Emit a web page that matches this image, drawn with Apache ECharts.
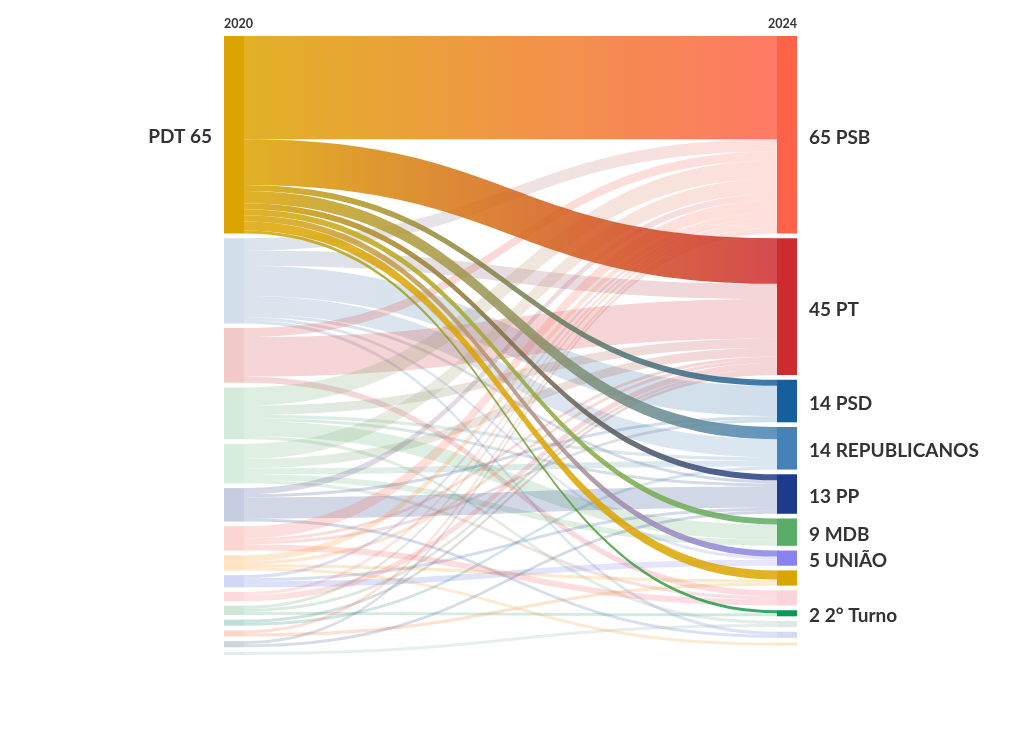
<!DOCTYPE html>
<html><head><meta charset="utf-8">
<script src="https://cdn.jsdelivr.net/npm/echarts@6/dist/echarts.min.js"></script>
<style>html,body{margin:0;padding:0;background:#fff}#c{width:1020px;height:733px}</style>
</head><body><div id="c"></div>
<script>
// ---- data ----
const years = ['2020', '2024'];
const sources = ['PDT', 'PSDB', 'PT', 'MDB', 'PSD', 'PP', 'PSB', 'PL', 'PODE', 'PROS', 'PV', 'PCdoB', 'SD', 'PTB', 'DEM'];
const sourceLabels = ['PDT 65', '', '', '', '', '', '', '', '', '', '', '', '', '', ''];
const targets = ['PSB', 'PT', 'PSD', 'REPUBLICANOS', 'PP', 'MDB', 'UNIÃO', 'PDT', 'PL', '2° Turno', 'AVANTE', 'PSDB', 'SD'];
const targetLabels = ['65 PSB', '45 PT', '14 PSD', '14 REPUBLICANOS', '13 PP', '9 MDB', '5 UNIÃO', '', '', '2 2° Turno', '', '', ''];
// flows from each 2020 party to the 2024 parties (same order as targets)
const fromPDT  = [34, 15, 2, 4, 2, 2, 2, 3, 0, 1, 0, 0, 0];
const fromPSDB = [4, 5, 10, 6, 1, 0, 1, 0, 0, 0, 0, 1, 0];
const fromPT   = [3, 13, 0, 0, 0, 0, 0, 0, 2, 0, 0, 0, 0];
const fromMDB  = [6, 3, 0, 1, 1, 5, 0, 0, 0, 0, 1, 0, 0];
const fromPSD  = [5, 3, 0, 2, 0, 2, 0, 0, 1, 0, 0, 0, 0];
const fromPP   = [2, 0, 1, 0, 7, 0, 0, 0, 0, 0, 0, 1, 0];
const fromPSB  = [4, 1, 1, 0, 0, 0, 0, 0, 2, 0, 0, 0, 0];
const fromPL   = [2, 1, 0, 0, 0, 0, 0, 1, 0, 0, 0, 0, 1];
const fromPODE = [1, 0, 0, 0, 1, 0, 2, 0, 0, 0, 0, 0, 0];
const fromPROS = [1, 2, 0, 0, 0, 0, 0, 0, 0, 0, 0, 0, 0];
const fromPV   = [1, 1, 0, 0, 0, 0, 0, 0, 0, 1, 0, 0, 0];
const fromPCdoB= [0, 1, 0, 1, 0, 0, 0, 0, 0, 0, 0, 0, 0];
const fromSD   = [1, 0, 0, 0, 0, 0, 0, 1, 0, 0, 0, 0, 0];
const fromPTB  = [1, 0, 0, 0, 1, 0, 0, 0, 0, 0, 0, 0, 0];
const fromDEM  = [0, 0, 0, 0, 0, 0, 0, 0, 0, 0, 1, 0, 0];
const flows = [fromPDT, fromPSDB, fromPT, fromMDB, fromPSD, fromPP, fromPSB, fromPL, fromPODE, fromPROS, fromPV, fromPCdoB, fromSD, fromPTB, fromDEM];

// ---- style ----
const sourceColors = ['#dca400', '#4a7aa8', '#cc2d2d', '#54ac70', '#5fb878', '#203884', '#f85844', '#ff900c', '#4464d8', '#ff6c6c', '#40a064', '#047464', '#ff5824', '#345884', '#80b8b0'];
const targetColors = ['#fe6249', '#cd2b2e', '#165f9f', '#4682b8', '#1e3a8a', '#58ad68', '#8782f0', '#dca400', '#f0506c', '#0a9a55', '#84a490', '#5070d0', '#f09c1c'];
const FADE = 0.25;
const labelFont = {fontFamily: 'Lato, "Noto Sans", sans-serif', fontWeight: 'bold', fontSize: 19, color: '#333'};

const nodes = [];
sources.forEach((s, i) => {
  const hi = i === 0;
  nodes.push({
    name: s + ' ' + years[0],
    itemStyle: {color: sourceColors[i], opacity: hi ? 1 : FADE},
    label: sourceLabels[i] ? Object.assign({show: true, position: 'left', distance: 12, offset: [0, 2], formatter: sourceLabels[i]}, labelFont) : {show: false}
  });
});
targets.forEach((t, j) => {
  const hi = fromPDT[j] > 0;
  nodes.push({
    name: t + ' ' + years[1],
    itemStyle: {color: targetColors[j], opacity: hi ? 1 : FADE},
    label: targetLabels[j] ? Object.assign({show: true, position: 'right', distance: 12, offset: [0, 3], formatter: targetLabels[j]}, labelFont) : {show: false}
  });
});

const fadedLinks = [], hiLinks = [];
flows.forEach((row, i) => {
  row.forEach((v, j) => {
    if (!v) return;
    const l = {
      source: sources[i] + ' ' + years[0],
      target: targets[j] + ' ' + years[1],
      value: v,
      lineStyle: {opacity: i === 0 ? 0.85 : 0.2}
    };
    (i === 0 ? hiLinks : fadedLinks).push(l);
  });
});

const chart = echarts.init(document.getElementById('c'), null, {renderer: 'canvas'});
chart.setOption({
  animation: false,
  backgroundColor: '#fff',
  graphic: [
    {type: 'text', left: 224, top: 17, style: {text: years[0], font: 'bold 12.5px Lato, sans-serif', fill: '#333'}},
    {type: 'text', right: 223, top: 17, style: {text: years[1], font: 'bold 12.5px Lato, sans-serif', fill: '#333'}}
  ],
  series: [{
    type: 'sankey',
    left: 224, right: 223, top: 36, bottom: 78,
    nodeWidth: 20,
    nodeGap: 4.7,
    layoutIterations: 0,
    draggable: false,
    emphasis: {disabled: true},
    lineStyle: {color: 'gradient', curveness: 0.5},
    data: nodes,
    links: fadedLinks.concat(hiLinks)
  }]
});
</script></body></html>
